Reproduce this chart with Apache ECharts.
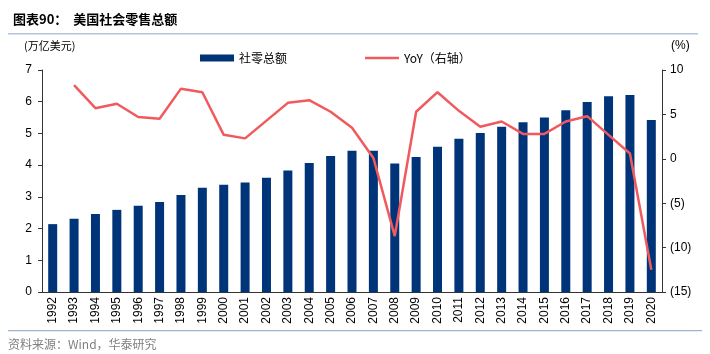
<!DOCTYPE html>
<html>
<head>
<meta charset="utf-8">
<script src="https://cdn.jsdelivr.net/npm/echarts@6/dist/echarts.min.js"></script>
<style>
    html, body { margin: 0; padding: 0; background: #fff; }
    #chart { width: 710px; height: 354px; }
</style>
</head>
<body>
<div id="chart"></div>
<script>
    // 1992 - 2020
    var years = ['1992', '1993', '1994', '1995', '1996', '1997', '1998', '1999', '2000', '2001',
        '2002', '2003', '2004', '2005', '2006', '2007', '2008', '2009', '2010', '2011',
        '2012', '2013', '2014', '2015', '2016', '2017', '2018', '2019', '2020']
    // 社零总额, 万亿美元
    var retail = [2.14, 2.31, 2.46, 2.59, 2.72, 2.84, 3.06, 3.29, 3.38, 3.45,
        3.60, 3.83, 4.07, 4.29, 4.45, 4.45, 4.05, 4.26, 4.58, 4.83,
        5.01, 5.21, 5.35, 5.50, 5.73, 5.99, 6.17, 6.21, 5.42]
    // YoY, %
    var yoy = [null, 8.3, 5.7, 6.2, 4.7, 4.5, 7.9, 7.5, 2.7, 2.3,
        4.3, 6.3, 6.6, 5.3, 3.5, 0.1, -8.7, 5.3, 7.5, 5.4,
        3.6, 4.2, 2.8, 2.8, 4.2, 4.8, 2.7, 0.6, -12.5]

    var myChart = echarts.init(document.getElementById('chart'))
    var font = 'Arial, "Liberation Sans", "Noto Sans CJK SC", sans-serif'
    var cjk = '"Noto Sans CJK SC", sans-serif'

    var option = {
        animation: false,
        textStyle: { fontFamily: font },
        title: {
            text: '图表90：  美国社会零售总额',
            left: 8,
            top: 8,
            textStyle: { fontSize: 13, fontWeight: 'bold', color: '#000', fontFamily: cjk }
        },
        graphic: [
            { type: 'rect', shape: { x: 8, y: 33, width: 690, height: 1.5 }, style: { fill: '#b4c4d8' } },
            { type: 'rect', shape: { x: 8, y: 330, width: 694, height: 1.2 }, style: { fill: '#9fb4cc' } },
            {
                type: 'text', left: 8, top: 338,
                style: { text: '资料来源：Wind，华泰研究', fill: '#808080', font: '12px ' + cjk }
            },
            {
                type: 'text', left: 24, top: 40,
                style: { text: '(万亿美元)', fill: '#000', font: '11px ' + cjk }
            },
            {
                type: 'text', left: 671, top: 40,
                style: { text: '(%)', fill: '#000', font: '12px ' + font }
            }
        ],
        legend: {
            left: 195,
            top: 47,
            itemWidth: 34,
            itemHeight: 7,
            itemGap: 78,
            textStyle: { fontSize: 12, color: '#000', fontFamily: cjk },
            data: [
                { name: '社零总额', icon: 'rect' },
                { name: 'YoY（右轴）', icon: 'path://M0,0h34v2.5h-34z' }
            ]
        },
        grid: { left: 42, right: 48, top: 70, bottom: 62 },
        xAxis: {
            type: 'category',
            data: years,
            axisLine: { lineStyle: { color: '#333', width: 1 } },
            axisTick: { alignWithLabel: false, length: 4, lineStyle: { color: '#333' } },
            axisLabel: { rotate: 90, fontSize: 12, color: '#000', margin: 5, interval: 0 }
        },
        yAxis: [
            {
                type: 'value',
                min: 0, max: 7, interval: 1,
                axisLine: { show: true, lineStyle: { color: '#333' } },
                axisTick: { show: true, length: 4, lineStyle: { color: '#333' } },
                splitLine: { show: false },
                axisLabel: { fontSize: 12, color: '#000', margin: 10 }
            },
            {
                type: 'value',
                min: -15, max: 10, interval: 5,
                axisLine: { show: true, lineStyle: { color: '#333' } },
                axisTick: { show: true, length: 4, lineStyle: { color: '#333' } },
                splitLine: { show: false },
                axisLabel: {
                    fontSize: 12, color: '#000', margin: 8,
                    formatter: function (v) { return v < 0 ? '(' + (-v) + ')' : String(v) }
                }
            }
        ],
        series: [
            {
                name: '社零总额',
                type: 'bar',
                data: retail,
                barWidth: 9,
                itemStyle: { color: '#003478' }
            },
            {
                name: 'YoY（右轴）',
                type: 'line',
                yAxisIndex: 1,
                data: yoy,
                symbol: 'none',
                lineStyle: { color: '#f05a5f', width: 2.5 },
                itemStyle: { color: '#f05a5f' }
            }
        ]
    }
    myChart.setOption(option)
</script>
</body>
</html>
